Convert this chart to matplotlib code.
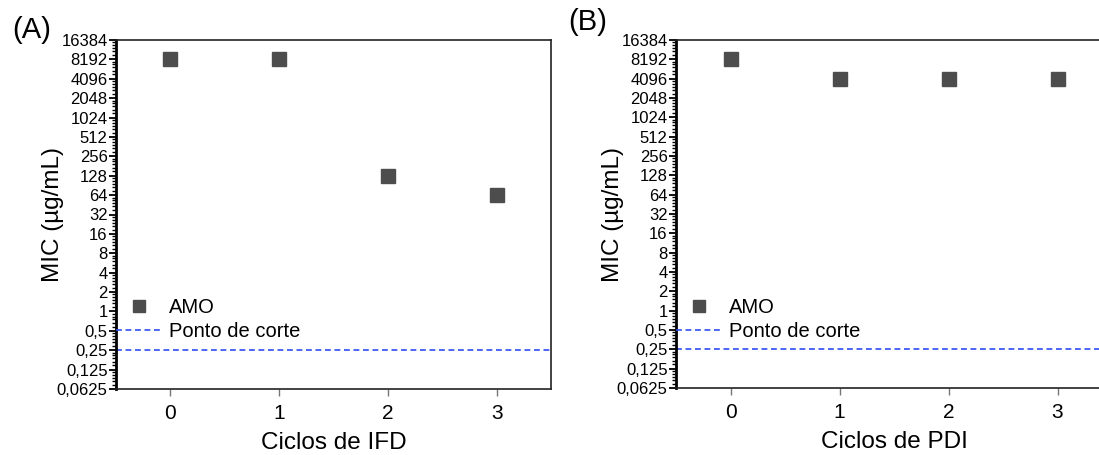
import numpy as np
import matplotlib
matplotlib.use("Agg")
import matplotlib.pyplot as plt
from matplotlib.ticker import FixedLocator, FixedFormatter

plt.rcParams['font.family'] = ['Liberation Sans', 'DejaVu Sans']

# Data
cycles = [0, 1, 2, 3]
mic_ifd = [8192, 8192, 128, 64]
mic_pdi = [8192, 4096, 4096, 4096]
breakpoint_mic = 0.25
ytick_values = [2.0 ** k for k in range(-4, 15)]
ytick_labels = ['0,0625', '0,125', '0,25', '0,5', '1', '2', '4', '8', '16', '32',
                '64', '128', '256', '512', '1024', '2048', '4096', '8192', '16384']
series_label = 'AMO'
line_label = 'Ponto de corte'
xlabels = ['Ciclos de IFD', 'Ciclos de PDI']
panel_labels = ['(A)', '(B)']

W, H = 1099, 455
fig = plt.figure(figsize=(W / 100, H / 100), dpi=100)

def box(l, r, t, b):
    return [l / W, (H - b) / H, (r - l) / W, (b - t) / H]

axes = [fig.add_axes(box(116, 551, 40, 389)),
        fig.add_axes(box(676, 1112, 40, 388))]

marker_color = '#4d4d4d'
line_color = '#2f4cf2'

minor_vals = [2.0 ** k * (1 + i / 6) for k in range(-4, 14) for i in range(1, 6)]

for ax, data, xl in zip(axes, [mic_ifd, mic_pdi], xlabels):
    ax.plot(cycles, data, linestyle='none', marker='s', markersize=9.5,
            color=marker_color, label=series_label)
    ax.axhline(breakpoint_mic, color=line_color, linestyle=(0, (3.5, 2.2)),
               linewidth=1.2, label=line_label)
    ax.set_yscale('log', base=2)
    ax.set_ylim(0.0625, 16384)
    ax.set_xlim(-0.5, 3.5)
    ax.yaxis.set_major_locator(FixedLocator(ytick_values))
    ax.yaxis.set_major_formatter(FixedFormatter(ytick_labels))
    ax.yaxis.set_minor_locator(FixedLocator(minor_vals))
    ax.yaxis.set_minor_formatter(FixedFormatter([]))
    ax.set_xticks(cycles)
    ax.tick_params(axis='y', which='major', direction='out', length=5, width=1.3,
                   labelsize=12, pad=1, color='black')
    ax.tick_params(axis='y', which='minor', direction='out', length=3, width=1.0,
                   color='black')
    ax.tick_params(axis='x', which='major', direction='out', length=5, width=1.0,
                   labelsize=15, pad=6, color='#777777')
    for side in ['top', 'right', 'bottom']:
        ax.spines[side].set_linewidth(1.2)
        ax.spines[side].set_color('#222222')
    ax.spines['left'].set_linewidth(2.0)
    ax.set_xlabel(xl, fontsize=17.5, labelpad=6)
    ax.set_ylabel('MIC (µg/mL)', fontsize=17.5, labelpad=-5)
    ax.legend(loc='center left', bbox_to_anchor=(0.0, 0.198), frameon=False,
              fontsize=14.5, borderaxespad=0, borderpad=0, handlelength=2.3,
              handletextpad=0.35, labelspacing=0.25, markerscale=0.9)

fig.text(12 / W, 1 - 30 / H, panel_labels[0], fontsize=21, va='center', ha='left')
fig.text(568 / W, 1 - 22 / H, panel_labels[1], fontsize=21, va='center', ha='left')

fig.savefig('out.png', dpi=100)
